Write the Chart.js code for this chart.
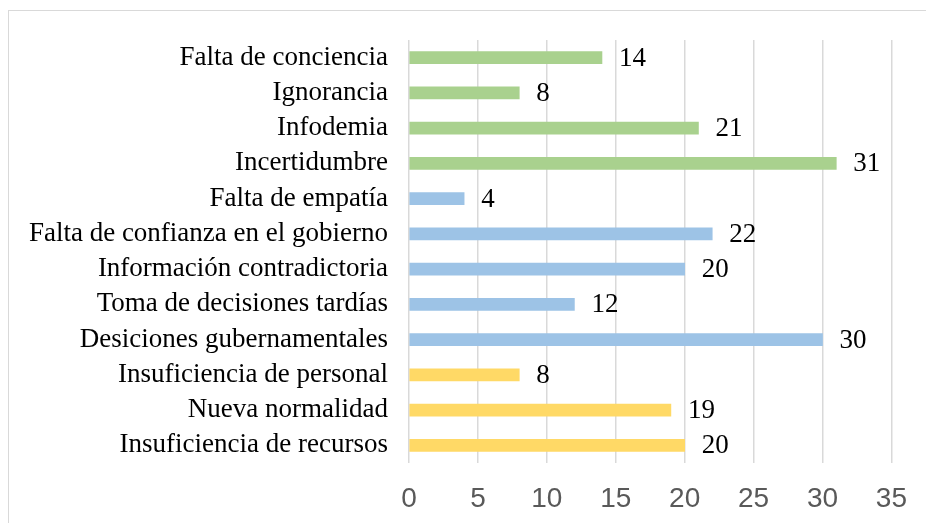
<!DOCTYPE html>
<html>
<head>
<meta charset="utf-8">
<script src="https://cdn.jsdelivr.net/npm/chart.js@4"></script>
<style>
    html, body { margin: 0; padding: 0; background: #fff; overflow: hidden; }
    #frame {
        position: absolute; left: 8px; top: 10px;
        width: 960px; height: 560px;
        border: 1.5px solid #d9d9d9;
    }
    #wrap { position: absolute; left: 0; top: 0; width: 926px; height: 523px; }
</style>
</head>
<body>
<div id="frame"></div>
<div id="wrap"><canvas id="chart"></canvas></div>
<script>
const categories = [
    'Falta de conciencia',
    'Ignorancia',
    'Infodemia',
    'Incertidumbre',
    'Falta de empatía',
    'Falta de confianza en el gobierno',
    'Información contradictoria',
    'Toma de decisiones tardías',
    'Desiciones gubernamentales',
    'Insuficiencia de personal',
    'Nueva normalidad',
    'Insuficiencia de recursos'
];
const values = [14, 8, 21, 31, 4, 22, 20, 12, 30, 8, 19, 20];
const groups = ['g', 'g', 'g', 'g', 'b', 'b', 'b', 'b', 'b', 'y', 'y', 'y'];
const xTicks = [0, 5, 10, 15, 20, 25, 30, 35];

const groupColors = { g: '#a9d18e', b: '#9dc3e6', y: '#ffd966' };

// etiquetas de valor al final de cada barra
const valueLabels = {
    id: 'valueLabels',
    afterDatasetsDraw(chart) {
        const ctx = chart.ctx;
        const meta = chart.getDatasetMeta(0);
        ctx.save();
        ctx.font = '27px "Liberation Serif", "Times New Roman", serif';
        ctx.fillStyle = '#000';
        ctx.textAlign = 'left';
        ctx.textBaseline = 'middle';
        meta.data.forEach((bar, i) => {
            ctx.fillText(String(values[i]), bar.x + 17, bar.y + 1);
        });
        ctx.restore();
    }
};

new Chart(document.getElementById('chart'), {
    type: 'bar',
    data: {
        labels: categories,
        datasets: [{
            data: values,
            backgroundColor: groups.map(g => groupColors[g]),
            barThickness: 12
        }]
    },
    options: {
        indexAxis: 'y',
        responsive: true,
        maintainAspectRatio: false,
        animation: false,
        layout: { padding: { top: 40, right: 31, bottom: 0, left: 0 } },
        plugins: {
            legend: { display: false },
            tooltip: { enabled: false }
        },
        scales: {
            x: {
                min: 0,
                max: 35,
                afterBuildTicks: (s) => { s.ticks = xTicks.map(v => ({ value: v })); },
                afterFit: (s) => { s.height = 60; },
                grid: { color: '#d9d9d9', lineWidth: 1.5, drawTicks: false },
                border: { display: false },
                ticks: {
                    padding: 19,
                    autoSkip: false,
                    maxRotation: 0,
                    color: '#595959',
                    font: { family: '"Liberation Sans", Arial, sans-serif', size: 28 }
                }
            },
            y: {
                afterFit: (s) => { s.width = 409; },
                grid: { display: false, drawTicks: false },
                border: { display: false },
                ticks: {
                    padding: 21,
                    autoSkip: false,
                    color: '#000',
                    font: { family: '"Liberation Serif", "Times New Roman", serif', size: 27 }
                }
            }
        }
    },
    plugins: [valueLabels]
});
</script>
</body>
</html>
